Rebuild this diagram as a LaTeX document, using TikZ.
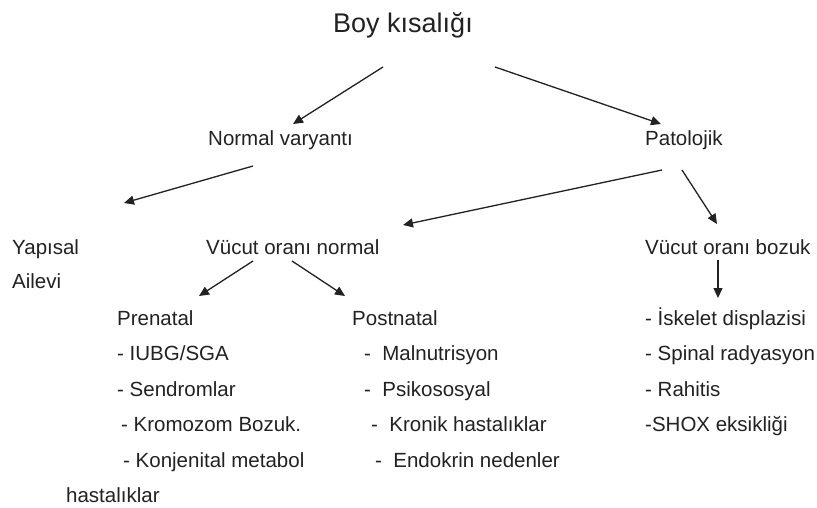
\documentclass[tikz,border=0pt]{standalone}
\usepackage{fontspec}
\setmainfont{Liberation Sans}
\usetikzlibrary{arrows.meta}
\definecolor{ink}{HTML}{222222}
\tikzset{
  lbl/.style={anchor=base west, inner sep=0pt, text=ink, font=\fontsize{20.5}{24}\selectfont},
  ttl/.style={anchor=base, inner sep=0pt, text=ink, font=\fontsize{27}{32}\selectfont},
  arr/.style={draw=ink, line width=1.3pt, -{Triangle[length=10pt,width=9pt]}}
}
\begin{document}
\begin{tikzpicture}[x=1pt,y=-1pt]
\useasboundingbox[fill=white] (0,0) rectangle (817,508);
% texts
\node[ttl] (boy) at (403,33) {Boy kısalığı};
\node[lbl] (nv) at (208,146) {Normal varyantı};
\node[lbl] (pat) at (645,146) {Patolojik};
\node[lbl] (yap) at (12,254) {Yapısal};
\node[lbl] (ail) at (12,288) {Ailevi};
\node[lbl] (von) at (206,254) {Vücut oranı normal};
\node[lbl] (vob) at (645,254) {Vücut oranı bozuk};
\node[lbl] (pre) at (117,325) {Prenatal};
\node[lbl] (post) at (352,325) {Postnatal};
\node[lbl] (p1) at (117,360) {- IUBG/SGA};
\node[lbl] (p2) at (117,396) {- Sendromlar};
\node[lbl] (p3) at (121,431) {- Kromozom Bozuk.};
\node[lbl] (p4) at (123,467) {- Konjenital metabol};
\node[lbl] (p5) at (66,502) {hastalıklar};
\node[lbl] (q1) at (364,360) {-\ \ Malnutrisyon};
\node[lbl] (q2) at (364,396) {-\ \ Psikososyal};
\node[lbl] (q3) at (371,431) {-\ \ Kronik hastalıklar};
\node[lbl] (q4) at (375,467) {-\ \ Endokrin nedenler};
\node[lbl] (r1) at (645,325) {- İskelet displazisi};
\node[lbl] (r2) at (645,360) {- Spinal radyasyon};
\node[lbl] (r3) at (645,396) {- Rahitis};
\node[lbl] (r4) at (645,431) {-SHOX eksikliği};
% arrow end points
\coordinate (a1s) at (383,67);  \coordinate (a1e) at (293,124);
\coordinate (a2s) at (495,67);  \coordinate (a2e) at (661,124);
\coordinate (a3s) at (253,166); \coordinate (a3e) at (124,203);
\coordinate (a4s) at (662,170); \coordinate (a4e) at (403,225);
\coordinate (a5s) at (682,170); \coordinate (a5e) at (717,224);
\coordinate (a6s) at (253,261); \coordinate (a6e) at (199,296);
\coordinate (a7s) at (292,261); \coordinate (a7e) at (345,296);
\coordinate (a8s) at (718,260); \coordinate (a8e) at (718,298);
\foreach \i in {1,...,8} { \draw[arr] (a\i s) -- (a\i e); }
\end{tikzpicture}
\end{document}
